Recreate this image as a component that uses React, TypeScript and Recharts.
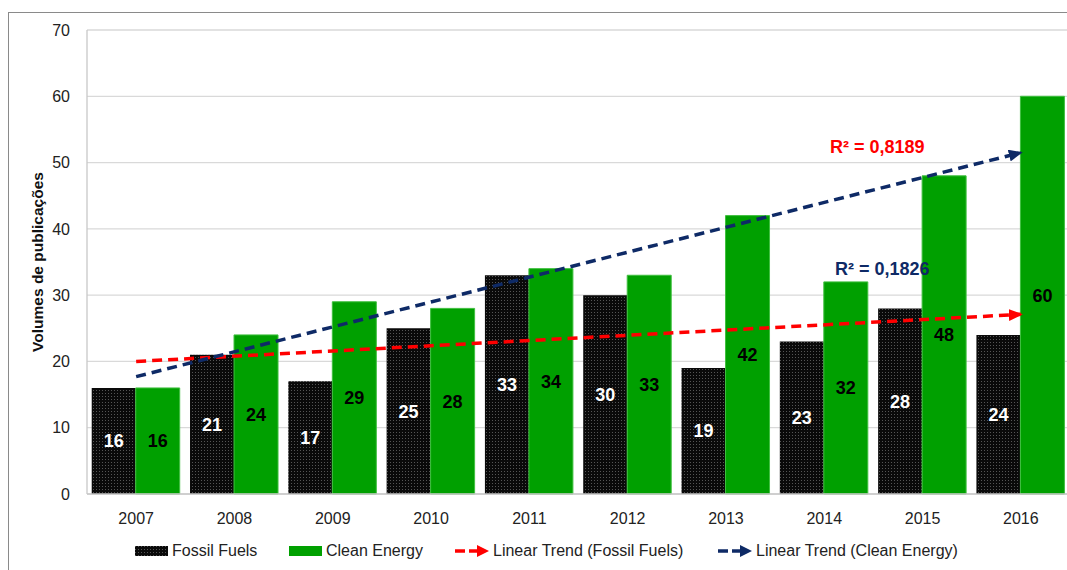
import React from "react";
import {
  ComposedChart,
  Bar,
  Line,
  XAxis,
  YAxis,
  CartesianGrid,
  LabelList,
  Legend,
  ReferenceDot,
} from "recharts";

const years = ["2007", "2008", "2009", "2010", "2011", "2012", "2013", "2014", "2015", "2016"];
const fossilFuels = [16, 21, 17, 25, 33, 30, 19, 23, 28, 24];
const cleanEnergy = [16, 24, 29, 28, 34, 33, 42, 32, 48, 60];
// trend line values read at first and last category
const fossilTrendEnds = [20.0, 27.1];
const cleanTrendEnds = [17.7, 51.5];
const yTicks = [0, 10, 20, 30, 40, 50, 60, 70];
const r2Fossil = "R² = 0,1826";
const r2Clean = "R² = 0,8189";

const data = years.map((y, i) => ({
  year: y,
  fossil: fossilFuels[i],
  clean: cleanEnergy[i],
  fossilTrend: i === 0 ? fossilTrendEnds[0] : i === years.length - 1 ? fossilTrendEnds[1] : null,
  cleanTrend: i === 0 ? cleanTrendEnds[0] : i === years.length - 1 ? cleanTrendEnds[1] : null,
}));

const FONT = "'Liberation Sans', Arial, sans-serif";
const GREEN = "#00a000";
const NAVY = "#0e2a66";
const RED = "#ff0000";

const LegendContent = () => {
  const item = (left: number, swatch: React.ReactNode, text: string) => (
    <div
      style={{
        position: "absolute",
        left,
        top: 0,
        display: "flex",
        alignItems: "center",
        height: 20,
        whiteSpace: "nowrap",
      }}
    >
      {swatch}
      <span style={{ marginLeft: 4, fontSize: 16, color: "#222", fontFamily: FONT }}>{text}</span>
    </div>
  );
  const arrow = (color: string) => (
    <svg width={34} height={12}>
      <line x1={0} y1={6} x2={10} y2={6} stroke={color} strokeWidth={3.5} />
      <line x1={14} y1={6} x2={24} y2={6} stroke={color} strokeWidth={3.5} />
      <path d="M22,0 L34,6 L22,12 Z" fill={color} />
    </svg>
  );
  return (
    <div style={{ position: "relative", width: 1067, height: 20 }}>
      {item(135, <svg width={33} height={10}><rect width={33} height={10} fill="url(#dotsLegend)" /></svg>, "Fossil Fuels")}
      {item(289, <div style={{ width: 33, height: 10, background: GREEN }} />, "Clean Energy")}
      {item(455, arrow(RED), "Linear Trend (Fossil Fuels)")}
      {item(718, arrow(NAVY), "Linear Trend (Clean Energy)")}
      <svg width={0} height={0} style={{ position: "absolute" }}>
        <defs>
          <pattern id="dotsLegend" width={3} height={3} patternUnits="userSpaceOnUse">
            <rect width={3} height={3} fill="#0a0a0a" />
            <rect width={1} height={1} fill="#555" />
          </pattern>
        </defs>
      </svg>
    </div>
  );
};

const YLabel = (props: any) => {
  const vb = props.viewBox || { x: 0, y: 30, width: 87, height: 464 };
  const cx = vb.x + 37;
  const cy = vb.y + vb.height / 2;
  return (
    <text
      x={cx}
      y={cy}
      transform={`rotate(-90, ${cx}, ${cy})`}
      textAnchor="middle"
      dominantBaseline="central"
      fontWeight="bold"
      fontSize={15.5}
      fontFamily={FONT}
      fill="#111"
    >
      Volumes de publicações
    </text>
  );
};

const r2Label = (text: string, color: string, dx: number) => (props: any) => {
  const vb = props.viewBox || {};
  return (
    <text
      x={(vb.x ?? 0) + dx}
      y={vb.y ?? 0}
      textAnchor="middle"
      dominantBaseline="central"
      fontWeight="bold"
      fontSize={18}
      fontFamily={FONT}
      fill={color}
    >
      {text}
    </text>
  );
};

export default function App() {
  return (
    <div style={{ position: "relative", width: 1067, height: 570, overflow: "hidden", background: "#fff" }}>
      <style>{`body{margin:0;overflow:hidden;}`}</style>
      <div
        style={{
          position: "absolute",
          left: 8,
          top: 12,
          width: 1200,
          height: 700,
          borderLeft: "1px solid #8a8a8a",
          borderTop: "1px solid #8a8a8a",
        }}
      />
      <div style={{ position: "absolute", left: 0, top: 0 }}>
        <ComposedChart
          width={1080}
          height={570}
          data={data}
          margin={{ top: 30, right: 10, bottom: 46, left: 0 }}
          barCategoryGap="4.8%"
          barGap={0}
        >
          <defs>
            <pattern id="dots" width={3} height={3} patternUnits="userSpaceOnUse">
              <rect width={3} height={3} fill="#0a0a0a" />
              <rect width={1} height={1} fill="#555" />
            </pattern>
            <marker
              id="arrowRed"
              markerUnits="userSpaceOnUse"
              markerWidth={14}
              markerHeight={12}
              refX={12}
              refY={6}
              orient="auto"
            >
              <path d="M0,0 L14,6 L0,12 Z" fill={RED} />
            </marker>
            <marker
              id="arrowNavy"
              markerUnits="userSpaceOnUse"
              markerWidth={14}
              markerHeight={12}
              refX={12}
              refY={6}
              orient="auto"
            >
              <path d="M0,0 L14,6 L0,12 Z" fill={NAVY} />
            </marker>
          </defs>
          <CartesianGrid vertical={false} stroke="#d9d9d9" strokeWidth={1.3} />
          <XAxis
            dataKey="year"
            height={30}
            tickLine={false}
            tickSize={0}
            tickMargin={19}
            axisLine={{ stroke: "#c8c8c8", strokeWidth: 1.3 }}
            tick={{ fontSize: 16, fill: "#222", fontFamily: FONT }}
            interval={0}
          />
          <YAxis
            width={87}
            domain={[0, 70]}
            ticks={yTicks}
            tickLine={false}
            tickSize={0}
            tickMargin={17}
            axisLine={{ stroke: "#c8c8c8", strokeWidth: 1.3 }}
            tick={{ fontSize: 16, fill: "#222", fontFamily: FONT }}
            label={<YLabel />}
          />
          <Bar dataKey="fossil" fill="url(#dots)" isAnimationActive={false}>
            <LabelList
              dataKey="fossil"
              position="center"
              fill="#ffffff"
              fontWeight="bold"
              fontSize={18}
              fontFamily={FONT}
            />
          </Bar>
          <Bar dataKey="clean" fill={GREEN} stroke="#3fbf3f" strokeWidth={1} isAnimationActive={false}>
            <LabelList
              dataKey="clean"
              position="center"
              fill="#000000"
              fontWeight="bold"
              fontSize={18}
              fontFamily={FONT}
            />
          </Bar>
          <Line
            dataKey="fossilTrend"
            stroke={RED}
            strokeWidth={3.5}
            strokeDasharray="10 6"
            dot={false}
            activeDot={false}
            connectNulls
            markerEnd="url(#arrowRed)"
            isAnimationActive={false}
          />
          <Line
            dataKey="cleanTrend"
            stroke={NAVY}
            strokeWidth={3.5}
            strokeDasharray="10 6"
            dot={false}
            activeDot={false}
            connectNulls
            markerEnd="url(#arrowNavy)"
            isAnimationActive={false}
          />
          <ReferenceDot
            x="2014"
            y={52.4}
            r={0}
            ifOverflow="visible"
            label={r2Label(r2Clean, RED, 53)}
          />
          <ReferenceDot
            x="2014"
            y={34}
            r={0}
            ifOverflow="visible"
            label={r2Label(r2Fossil, NAVY, 58)}
          />
          <Legend
            verticalAlign="middle"
            align="center"
            layout="horizontal"
            wrapperStyle={{ position: "absolute", left: 0, top: 541, width: 1067 }}
            content={<LegendContent />}
          />
        </ComposedChart>
      </div>
    </div>
  );
}
